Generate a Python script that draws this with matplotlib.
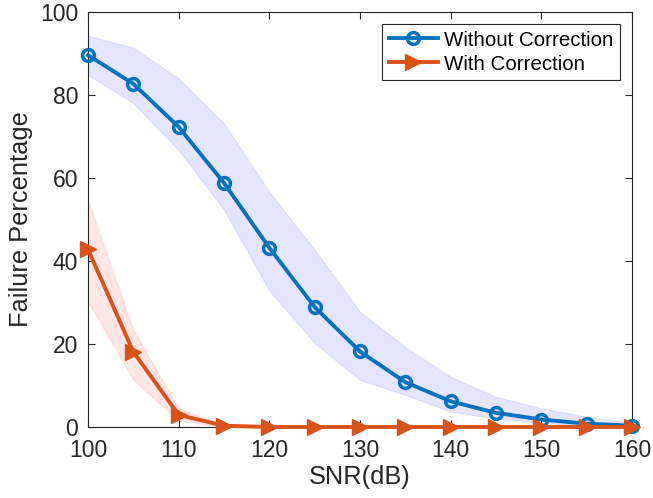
import numpy as np
import matplotlib.pyplot as plt

# SNR values (dB)
snr = [100, 105, 110, 115, 120, 125, 130, 135, 140, 145, 150, 155, 160]

# failure percentage without correction, with upper/lower band edges
without_corr = [89.6, 82.7, 72.3, 58.8, 43.2, 28.9, 18.2, 10.8, 6.2, 3.4, 1.8, 0.8, 0.3]
without_upper = [94.3, 91.4, 84.0, 73.2, 56.7, 42.7, 27.8, 19.3, 12.1, 7.3, 4.5, 2.5, 1.0]
without_lower = [84.8, 78.0, 66.7, 52.3, 32.8, 20.2, 11.3, 7.7, 3.7, 2.0, 1.0, 0.3, 0.0]

# failure percentage with correction
with_corr = [42.8, 18.1, 2.9, 0.3, 0.0, 0.0, 0.0, 0.0, 0.0, 0.0, 0.0, 0.0, 0.0]
with_upper = [54.7, 23.4, 4.5, 0.5, 0.0, 0.0, 0.0, 0.0, 0.0, 0.0, 0.0, 0.0, 0.0]
with_lower = [30.2, 11.3, 1.5, 0.0, 0.0, 0.0, 0.0, 0.0, 0.0, 0.0, 0.0, 0.0, 0.0]

x_ticks = [100, 110, 120, 130, 140, 150, 160]
y_ticks = [0, 20, 40, 60, 80, 100]

BLUE = '#0072BD'
ORANGE = '#D95319'
AXC = '#262626'

plt.rcParams['font.family'] = ['Liberation Sans', 'DejaVu Sans']

fig = plt.figure(figsize=(6.53, 4.98), dpi=100)
ax = fig.add_axes([0.1348, 0.1426, 0.8330, 0.8333])

# shaded bands
ax.fill_between(snr, without_lower, without_upper, facecolor=(0, 0, 1, 0.1),
                edgecolor=(0, 0, 1, 0.08), linewidth=0.8)
ax.fill_between(snr, with_lower, with_upper, facecolor=(1, 0, 0, 0.1),
                edgecolor=(1, 0, 0, 0.08), linewidth=0.8)

ax.plot(snr, without_corr, color=BLUE, lw=2.8, marker='o', ms=8.5,
        mfc='none', mec=BLUE, mew=2.5, label='Without Correction', clip_on=False, zorder=3)
ax.plot(snr, with_corr, color=ORANGE, lw=2.8, marker='>', ms=11,
        mfc=ORANGE, mec=ORANGE, label='With Correction', clip_on=False, zorder=4)

ax.set_xlim(100, 160)
ax.set_ylim(0, 100)
ax.set_xticks(x_ticks)
ax.set_yticks(y_ticks)

for s in ax.spines.values():
    s.set_color(AXC)
    s.set_linewidth(0.8)
ax.tick_params(direction='in', length=5, width=0.8, color=AXC, labelcolor=AXC,
               labelsize=16.5, top=True, right=True)
ax.tick_params(axis='x', pad=9)
ax.tick_params(axis='y', pad=7)

ax.set_xlabel('SNR(dB)', fontsize=18.3, color=AXC, labelpad=2)
ax.set_ylabel('Failure Percentage', fontsize=18.3, color=AXC, labelpad=5)

leg = ax.legend(loc='upper right', bbox_to_anchor=(1, 1), borderaxespad=0.6,
                fontsize=14.8, frameon=True, fancybox=False, framealpha=1, edgecolor=AXC,
                handlelength=2.4, handletextpad=0.3, borderpad=0.3, labelspacing=0.25)
leg.get_frame().set_linewidth(0.8)

fig.savefig('out.png', dpi=100)
